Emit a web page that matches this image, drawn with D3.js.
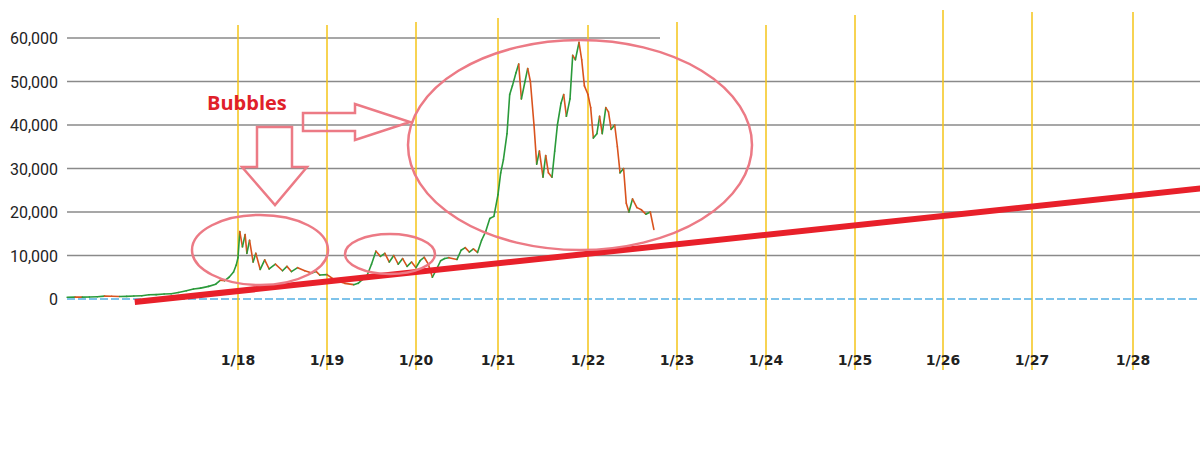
<!DOCTYPE html>
<html><head><meta charset="utf-8">
<script src="https://cdn.jsdelivr.net/npm/d3@7"></script>
<style>body{margin:0;background:#fff}</style></head>
<body><svg id="c" width="1200" height="458"></svg>
<script>
const yTicks=[0,10000,20000,30000,40000,50000,60000];
const xTickLabels=["1/18","1/19","1/20","1/21","1/22","1/23","1/24","1/25","1/26","1/27","1/28"];
const xTickYears=[2018,2019,2020,2021,2022,2023,2024,2025,2026,2027,2028];
const priceDates=[2016.08,2016.17,2016.25,2016.33,2016.42,2016.5,2016.58,2016.67,2016.75,2016.83,2016.92,
2017.0,2017.08,2017.17,2017.25,2017.33,2017.42,2017.5,2017.58,2017.67,2017.75,2017.8,2017.85,2017.9,2017.95,2017.98,2018.0,2018.02,2018.05,2018.08,2018.1,2018.13,2018.17,2018.2,2018.25,2018.3,2018.35,2018.42,2018.5,2018.55,2018.6,2018.67,2018.75,2018.83,2018.88,
2018.92,2019.0,2019.1,2019.2,2019.3,2019.35,2019.4,2019.45,2019.5,2019.55,2019.6,2019.65,2019.7,2019.75,2019.8,2019.85,2019.9,2019.95,2020.0,2020.05,2020.1,2020.15,2020.2,2020.25,2020.3,2020.35,2020.4,2020.5,2020.55,2020.6,2020.65,2020.7,2020.75,2020.8,2020.85,
2020.9,2020.95,2021.0,2021.03,2021.06,2021.1,2021.13,2021.16,2021.2,2021.23,2021.26,2021.3,2021.33,2021.36,2021.4,2021.43,2021.46,2021.5,2021.53,2021.56,2021.6,2021.63,2021.66,2021.7,2021.73,2021.76,2021.8,2021.83,2021.86,2021.9,2021.93,2021.96,2022.0,2022.03,2022.06,2022.1,2022.13,2022.16,2022.2,2022.23,2022.26,2022.3,2022.33,2022.36,2022.4,2022.43,2022.46,2022.5,2022.55,2022.6,2022.65,2022.7,2022.74];
const priceValues=[400,430,420,450,530,670,620,570,600,700,740,
960,1000,1150,1200,1500,1900,2300,2500,2900,3400,4300,4200,5000,6200,7800,9500,15500,12000,14800,10500,13500,8500,10500,6800,9000,6900,8000,6500,7500,6300,7200,6500,6000,6300,
5500,5600,4200,3600,3300,3600,4500,5400,8000,11000,9800,10500,8500,10000,8000,9300,7500,8500,7200,8800,9600,8000,5000,6800,8800,9300,9500,9100,11200,11800,10800,11500,10700,13500,15500,
18500,19000,24000,29000,32000,38000,47000,49000,52000,54000,46000,50000,53000,50000,40000,31000,34000,28000,33000,29000,28000,34000,40000,45000,47000,42000,46000,56000,55000,59000,55000,49000,47000,44000,37000,38000,42000,38000,44000,43000,39000,40000,35000,29000,30000,22000,20000,23000,21000,20500,19500,20000,16000];
const trendYears=[2016.84,2028.81];
const trendValues=[-700,25750];
const tickPx=[238,327,416,498,588,677,766,855,943,1032,1133];

const svg=d3.select("#c");
const x=d3.scaleLinear().domain(xTickYears).range(tickPx);
const y=d3.scaleLinear().domain([0,60000]).range([299,38]);

svg.append("g").selectAll("line").data(yTicks).join("line")
 .attr("x1",67).attr("x2",d=>d===60000?660:1200)
 .attr("y1",d=>y(d)).attr("y2",d=>y(d))
 .attr("stroke",d=>d===0?"#7ec3ea":"#8a8a8a").attr("stroke-width",d=>d===0?2:1.6)
 .attr("stroke-dasharray",d=>d===0?"8,3":null);
svg.append("g").selectAll("text").data(yTicks).join("text")
 .attr("x",58).attr("y",d=>y(d)+6).attr("text-anchor","end")
 .attr("font-family","Roboto, sans-serif").attr("font-size",16).attr("fill","#222")
 .text(d=>d3.format(",")(d));
const topY=[25,25,22,18,25,22,25,15,10,12,12];
svg.append("g").selectAll("line").data(xTickYears).join("line")
 .attr("x1",d=>x(d)).attr("x2",d=>x(d)).attr("y1",(d,i)=>topY[i]).attr("y2",370)
 .attr("stroke","#f5c518").attr("stroke-width",1.5);
svg.append("g").selectAll("text").data(xTickYears).join("text")
 .attr("x",d=>x(d)).attr("y",365).attr("text-anchor","middle")
 .attr("font-family","'DejaVu Sans', sans-serif").attr("font-weight","bold").attr("font-size",14).attr("fill","#222")
 .text((d,i)=>xTickLabels[i]);
const segs=d3.range(priceValues.length-1).map(i=>({i}));
svg.append("g").selectAll("line").data(segs).join("line")
 .attr("x1",d=>x(priceDates[d.i])).attr("x2",d=>x(priceDates[d.i+1]))
 .attr("y1",d=>y(priceValues[d.i])).attr("y2",d=>y(priceValues[d.i+1]))
 .attr("stroke",d=>priceValues[d.i+1]>=priceValues[d.i]?"#2a9a3a":"#d9531e")
 .attr("stroke-width",1.6).attr("stroke-linecap","round");
svg.append("line").attr("x1",x(trendYears[0])).attr("x2",x(trendYears[1]))
 .attr("y1",y(trendValues[0])).attr("y2",y(trendValues[1]))
 .attr("stroke","#e8202a").attr("stroke-width",6);
const pink="#ec7a85";
const ell=[[580,145,172,105],[260,250,68,35],[390,254,45,20]];
svg.append("g").selectAll("ellipse").data(ell).join("ellipse")
 .attr("cx",d=>d[0]).attr("cy",d=>d[1]).attr("rx",d=>d[2]).attr("ry",d=>d[3])
 .attr("fill","none").attr("stroke",pink).attr("stroke-width",2.5);
svg.append("path").attr("d","M303,113 L355,113 L355,104 L410,122 L355,140 L355,131 L303,131 Z")
 .attr("fill","none").attr("stroke",pink).attr("stroke-width",2.5);
svg.append("path").attr("d","M257,127 L292,127 L292,167 L307,167 L275,205 L242,167 L257,167 Z")
 .attr("fill","none").attr("stroke",pink).attr("stroke-width",2.5);
svg.append("text").attr("x",207).attr("y",110).attr("font-family","'Open Sans', sans-serif")
 .attr("font-weight","bold").attr("font-size",20).attr("fill","#e0202a").text("Bubbles");
</script></body></html>
